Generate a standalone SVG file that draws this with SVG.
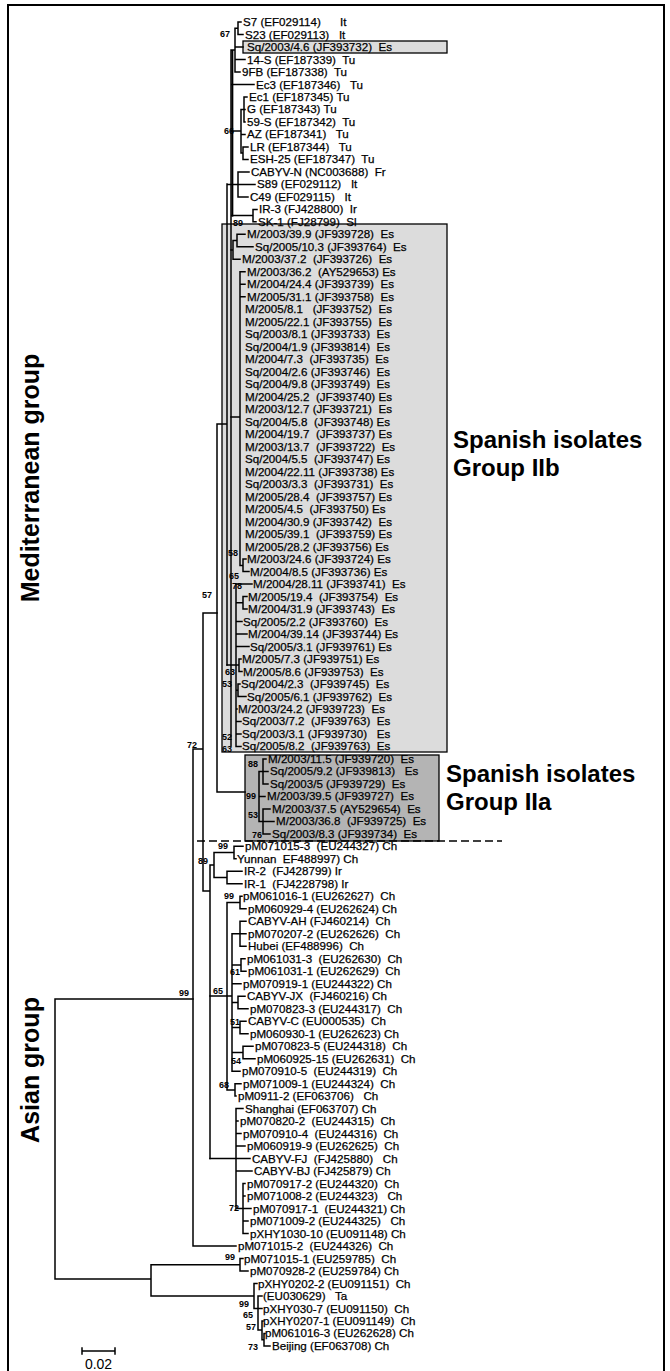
<svg xmlns="http://www.w3.org/2000/svg" width="670" height="1371" viewBox="0 0 670 1371">
<style>
.lf{font-family:"Liberation Sans",Arial,sans-serif;font-size:11.6px;fill:#000;stroke:#000;stroke-width:0.25;white-space:pre}
.bs{font-family:"Liberation Sans",Arial,sans-serif;font-size:9px;font-weight:bold;fill:#000}
.big{font-family:"Liberation Sans",Arial,sans-serif;font-size:24px;font-weight:bold;fill:#000}
.tr{fill:none;stroke:#000;stroke-width:1.5;stroke-linecap:square}
.bx{stroke:#000;stroke-width:1.3}
</style>
<rect x="8" y="5" width="656" height="1375" fill="#fff" stroke="#000" stroke-width="2"/>
<g id="boxes">
<rect class="bx" x="222" y="224" width="225" height="528" fill="#dcdcdc"/>
<rect class="bx" x="243" y="41" width="204" height="12" fill="#dcdcdc"/>
<rect class="bx" x="245" y="755" width="194" height="86" fill="#b4b4b4"/>
</g>
<g id="connectors">
<path class="tr" d="M55 999V1279M55 999H193M55 1279H151M151 1264.8V1296M151 1264.8H240M240 1258.5V1271M240 1258.5H243M240 1271H248M151 1296H254M254 1283.5V1308.5M254 1283.5H257M254 1308.5H258M258 1296V1330M258 1296H262M258 1308.5H262M258 1330H262M262 1321V1339.7M262 1321H263M262 1339.7H264M264 1333.4V1345.9M264 1333.4H265M264 1345.9H270"/>
<path class="tr" d="M193 749V1246M193 1246H236M193 749H203M203 613V891M203 613H217M203 891H210M210 865V1158.6M214 852.5V877.5M210 865H214M214 852.5H234M214 877.5H227M234 846.3V858.8M234 846.3H243M234 858.8H236M227 871.3V883.8M227 871.3H242M227 883.8H242"/>
<path class="tr" d="M227 902.5V1089.9M210 996H232M227 902.5H240M240 896.3V908.8M240 896.3H242M240 908.8H246M232 933.8V1071.2M232 933.8H240M240 921.3V946.3M240 921.3H246M240 933.8H246M240 946.3H246M232 965H241M241 958.8V971.2M241 958.8H245M241 971.2H246M232 983.7H241M232 1002.5H238M238 996.2V1008.7M238 996.2H245M238 1008.7H248M232 1027.5H240M240 1021.2V1033.7M240 1021.2H246M240 1033.7H248M232 1052.5H243M243 1046.2V1058.7M243 1046.2H253M243 1058.7H255M232 1071.2H240M227 1089.9H235M235 1083.7V1096.1M235 1083.7H241M235 1096.1H236"/>
<path class="tr" d="M210 1158.6H236M236 1108.6V1208.5M236 1108.6H243M236 1121.1H238M236 1133.6H241M236 1146.1H245M236 1158.6H250M236 1171.1H252M236 1208.5H243M243 1183.6V1233.5M243 1183.6H245M243 1196.1H245M243 1208.5H251M243 1221H248M243 1233.5H248"/>
<path class="tr" d="M217 424V792M217 424H227M217 792H245M227 184V665M231 50V746M232.6 50V216M231 50H235M235 28.2V72M235 28.2H238M238 22V34.5M238 22H241M238 34.5H243M235 47H243M235 59.5H245M235 72H240M231 84.5H254M231 131H241M241 109.4V153.1M241 109.4H244M244 96.9V121.9M244 96.9H247M244 109.4H245M244 121.9H245M241 134.4H245M241 153.1H243M243 146.9V159.4M243 146.9H248M243 159.4H248M227 184.4H238M238 171.9V196.9M238 171.9H249M238 184.4H255M238 196.9H248M231 215.6H253M253 209.4V221.8M253 209.4H257M253 221.8H256"/>
<path class="tr" d="M231 250H233M233 240.6V259.3M233 240.6H237M233 259.3H240M237 234.3V246.8M237 234.3H245M237 246.8H253M231 417H240M240 271.8V565.4M240 271.8H245M240 284.3H245M240 296.8H245M240 565.4H243M243 559.1V571.6M243 559.1H246M243 571.6H249M227 665H236M236 584.1V746.4M236 584.1H252M236 602.8H243M243 596.5V609M243 596.5H247M243 609H247M236 621.5H242M236 634H247M236 646.5H249M236 665H239M239 659V671.5M239 659H241M239 671.5H242M236 690.2H238M238 684V696.5M238 684H240M238 696.5H246M236 709H237M236 721.4H241M236 733.9H241M236 746.4H241"/>
<path class="tr" d="M259 771.4V821.4M259 796.4H265M259 771.4H263M259 821.4H263M263 758.9V783.9M263 758.9H266M263 771.4H268M263 783.9H268M263 808.9V833.9M263 808.9H270M263 821.4H274M263 833.9H270"/>
<path fill="none" stroke="#000" stroke-width="1.5" stroke-dasharray="8 4" d="M197 841H502"/>
<path class="tr" d="M82 1351H115M82 1348V1354M115 1348V1354"/>
</g>
<g id="bootstraps">
<text class="bs" x="220" y="37">67</text>
<text class="bs" x="224" y="134">66</text>
<text class="bs" x="233" y="226">89</text>
<text class="bs" x="228" y="556">58</text>
<text class="bs" x="229" y="579">65</text>
<text class="bs" x="232" y="589">78</text>
<text class="bs" x="202" y="598">57</text>
<text class="bs" x="225" y="675">63</text>
<text class="bs" x="222" y="687">53</text>
<text class="bs" x="222" y="740">52</text>
<text class="bs" x="222" y="752">63</text>
<text class="bs" x="187" y="748">72</text>
<text class="bs" x="248" y="767">88</text>
<text class="bs" x="246" y="799">99</text>
<text class="bs" x="248" y="818">53</text>
<text class="bs" x="252" y="838">76</text>
<text class="bs" x="218" y="849">99</text>
<text class="bs" x="198" y="864">89</text>
<text class="bs" x="224" y="899">99</text>
<text class="bs" x="230" y="975">61</text>
<text class="bs" x="213" y="994">65</text>
<text class="bs" x="179" y="996">99</text>
<text class="bs" x="230" y="1025">51</text>
<text class="bs" x="231" y="1064">54</text>
<text class="bs" x="219" y="1088">68</text>
<text class="bs" x="229" y="1211">72</text>
<text class="bs" x="225" y="1260">99</text>
<text class="bs" x="239" y="1307">99</text>
<text class="bs" x="243" y="1318">65</text>
<text class="bs" x="246" y="1330">57</text>
<text class="bs" x="248" y="1350">73</text>
</g>
<g id="n1"><text class="lf" x="243" y="26">S7 (EF029114)      It</text></g>
<g id="n2"><text class="lf" x="245" y="38.5">S23 (EF029113)   It</text></g>
<g id="n3"><text class="lf" x="247" y="51">Sq/2003/4.6 (JF393732)  Es</text></g>
<g id="n4"><text class="lf" x="247" y="63.5">14-S (EF187339)  Tu</text></g>
<g id="n5"><text class="lf" x="242" y="76">9FB (EF187338)  Tu</text></g>
<g id="n6"><text class="lf" x="256" y="88.5">Ec3 (EF187346)   Tu</text></g>
<g id="n7"><text class="lf" x="249" y="100.9">Ec1 (EF187345) Tu</text></g>
<g id="n8"><text class="lf" x="247" y="113.4">G (EF187343) Tu</text></g>
<g id="n9"><text class="lf" x="247" y="125.9">59-S (EF187342)  Tu</text></g>
<g id="n10"><text class="lf" x="247" y="138.4">AZ (EF187341)   Tu</text></g>
<g id="n11"><text class="lf" x="250" y="150.9">LR (EF187344)   Tu</text></g>
<g id="n12"><text class="lf" x="250" y="163.4">ESH-25 (EF187347)  Tu</text></g>
<g id="n13"><text class="lf" x="251" y="175.9">CABYV-N (NC003688)  Fr</text></g>
<g id="n14"><text class="lf" x="257" y="188.4">S89 (EF029112)   It</text></g>
<g id="n15"><text class="lf" x="250" y="200.9">C49 (EF029115)   It</text></g>
<g id="n16"><text class="lf" x="259" y="213.4">IR-3 (FJ428800)  Ir</text></g>
<g id="n17"><text class="lf" x="258" y="225.8">SK-1 (FJ28799)  Sl</text></g>
<g id="n18"><text class="lf" x="247" y="238.3">M/2003/39.9 (JF939728)  Es</text></g>
<g id="n19"><text class="lf" x="255" y="250.8">Sq/2005/10.3 (JF393764)  Es</text></g>
<g id="n20"><text class="lf" x="242" y="263.3">M/2003/37.2  (JF393726)  Es</text></g>
<g id="n21"><text class="lf" x="247" y="275.8">M/2003/36.2  (AY529653) Es</text></g>
<g id="n22"><text class="lf" x="247" y="288.3">M/2004/24.4 (JF393739)  Es</text></g>
<g id="n23"><text class="lf" x="247" y="300.8">M/2005/31.1 (JF393758)  Es</text></g>
<g id="n24"><text class="lf" x="245" y="313.3">M/2005/8.1   (JF393752)  Es</text></g>
<g id="n25"><text class="lf" x="245" y="325.8">M/2005/22.1 (JF393755)  Es</text></g>
<g id="n26"><text class="lf" x="245" y="338.3">Sq/2003/8.1 (JF393733)  Es</text></g>
<g id="n27"><text class="lf" x="245" y="350.7">Sq/2004/1.9 (JF393814)  Es</text></g>
<g id="n28"><text class="lf" x="245" y="363.2">M/2004/7.3  (JF393735)  Es</text></g>
<g id="n29"><text class="lf" x="245" y="375.7">Sq/2004/2.6 (JF393746)  Es</text></g>
<g id="n30"><text class="lf" x="245" y="388.2">Sq/2004/9.8 (JF393749)  Es</text></g>
<g id="n31"><text class="lf" x="245" y="400.7">M/2004/25.2  (JF393740) Es</text></g>
<g id="n32"><text class="lf" x="245" y="413.2">M/2003/12.7 (JF393721)  Es</text></g>
<g id="n33"><text class="lf" x="245" y="425.7">Sq/2004/5.8  (JF393748) Es</text></g>
<g id="n34"><text class="lf" x="245" y="438.2">M/2004/19.7  (JF393737) Es</text></g>
<g id="n35"><text class="lf" x="245" y="450.7">M/2003/13.7  (JF393722)  Es</text></g>
<g id="n36"><text class="lf" x="245" y="463.2">Sq/2004/5.5  (JF393747) Es</text></g>
<g id="n37"><text class="lf" x="245" y="475.6">M/2004/22.11 (JF393738) Es</text></g>
<g id="n38"><text class="lf" x="245" y="488.1">Sq/2003/3.3  (JF393731)  Es</text></g>
<g id="n39"><text class="lf" x="245" y="500.6">M/2005/28.4  (JF393757) Es</text></g>
<g id="n40"><text class="lf" x="245" y="513.1">M/2005/4.5  (JF393750) Es</text></g>
<g id="n41"><text class="lf" x="245" y="525.6">M/2004/30.9 (JF393742)  Es</text></g>
<g id="n42"><text class="lf" x="245" y="538.1">M/2005/39.1  (JF393759) Es</text></g>
<g id="n43"><text class="lf" x="245" y="550.6">M/2005/28.2 (JF393756) Es</text></g>
<g id="n44"><text class="lf" x="247" y="563.1">M/2003/24.6 (JF393724) Es</text></g>
<g id="n45"><text class="lf" x="250" y="575.6">M/2004/8.5 (JF393736) Es</text></g>
<g id="n46"><text class="lf" x="253" y="588.1">M/2004/28.11 (JF393741)  Es</text></g>
<g id="n47"><text class="lf" x="248" y="600.5">M/2005/19.4  (JF393754)  Es</text></g>
<g id="n48"><text class="lf" x="248" y="613">M/2004/31.9 (JF393743)  Es</text></g>
<g id="n49"><text class="lf" x="243" y="625.5">Sq/2005/2.2 (JF393760)  Es</text></g>
<g id="n50"><text class="lf" x="248" y="638">M/2004/39.14 (JF393744) Es</text></g>
<g id="n51"><text class="lf" x="250" y="650.5">Sq/2005/3.1 (JF939761) Es</text></g>
<g id="n52"><text class="lf" x="242" y="663">M/2005/7.3 (JF939751) Es</text></g>
<g id="n53"><text class="lf" x="243" y="675.5">M/2005/8.6 (JF939753)  Es</text></g>
<g id="n54"><text class="lf" x="241" y="688">Sq/2004/2.3  (JF939745)  Es</text></g>
<g id="n55"><text class="lf" x="247" y="700.5">Sq/2005/6.1 (JF939762)  Es</text></g>
<g id="n56"><text class="lf" x="238" y="713">M/2003/24.2 (JF939723)  Es</text></g>
<g id="n57"><text class="lf" x="242" y="725.4">Sq/2003/7.2  (JF939763)  Es</text></g>
<g id="n58"><text class="lf" x="242" y="737.9">Sq/2003/3.1 (JF939730)   Es</text></g>
<g id="n59"><text class="lf" x="242" y="750.4">Sq/2005/8.2  (JF939763)  Es</text></g>
<g id="n60"><text class="lf" x="268" y="762.9">M/2003/11.5 (JF939720)  Es</text></g>
<g id="n61"><text class="lf" x="270" y="775.4">Sq/2005/9.2 (JF939813)   Es</text></g>
<g id="n62"><text class="lf" x="270" y="787.9">Sq/2003/5 (JF939729)  Es</text></g>
<g id="n63"><text class="lf" x="267" y="800.4">M/2003/39.5 (JF939727)  Es</text></g>
<g id="n64"><text class="lf" x="272" y="812.9">M/2003/37.5 (AY529654)  Es</text></g>
<g id="n65"><text class="lf" x="276" y="825.4">M/2003/36.8  (JF939725)  Es</text></g>
<g id="n66"><text class="lf" x="272" y="837.9">Sq/2003/8.3 (JF939734)  Es</text></g>
<g id="n67"><text class="lf" x="245" y="850.3">pM071015-3  (EU244327) Ch</text></g>
<g id="n68"><text class="lf" x="237" y="862.8">Yunnan  EF488997) Ch</text></g>
<g id="n69"><text class="lf" x="244" y="875.3">IR-2  (FJ428799) Ir</text></g>
<g id="n70"><text class="lf" x="244" y="887.8">IR-1  (FJ4228798) Ir</text></g>
<g id="n71"><text class="lf" x="243" y="900.3">pM061016-1 (EU262627)  Ch</text></g>
<g id="n72"><text class="lf" x="248" y="912.8">pM060929-4 (EU262624) Ch</text></g>
<g id="n73"><text class="lf" x="248" y="925.3">CABYV-AH (FJ460214)  Ch</text></g>
<g id="n74"><text class="lf" x="248" y="937.8">pM070207-2 (EU262626)  Ch</text></g>
<g id="n75"><text class="lf" x="248" y="950.3">Hubei (EF488996)  Ch</text></g>
<g id="n76"><text class="lf" x="247" y="962.8">pM061031-3  (EU262630)  Ch</text></g>
<g id="n77"><text class="lf" x="248" y="975.2">pM061031-1 (EU262629)  Ch</text></g>
<g id="n78"><text class="lf" x="243" y="987.7">pM070919-1 (EU244322) Ch</text></g>
<g id="n79"><text class="lf" x="247" y="1000.2">CABYV-JX  (FJ460216) Ch</text></g>
<g id="n80"><text class="lf" x="250" y="1012.7">pM070823-3 (EU244317)  Ch</text></g>
<g id="n81"><text class="lf" x="248" y="1025.2">CABYV-C (EU000535)  Ch</text></g>
<g id="n82"><text class="lf" x="250" y="1037.7">pM060930-1 (EU262623) Ch</text></g>
<g id="n83"><text class="lf" x="255" y="1050.2">pM070823-5 (EU244318)  Ch</text></g>
<g id="n84"><text class="lf" x="257" y="1062.7">pM060925-15 (EU262631)  Ch</text></g>
<g id="n85"><text class="lf" x="242" y="1075.2">pM070910-5  (EU244319)  Ch</text></g>
<g id="n86"><text class="lf" x="243" y="1087.7">pM071009-1 (EU244324)  Ch</text></g>
<g id="n87"><text class="lf" x="238" y="1100.1">pM0911-2 (EF063706)   Ch</text></g>
<g id="n88"><text class="lf" x="245" y="1112.6">Shanghai (EF063707) Ch</text></g>
<g id="n89"><text class="lf" x="240" y="1125.1">pM070820-2  (EU244315)  Ch</text></g>
<g id="n90"><text class="lf" x="243" y="1137.6">pM070910-4  (EU244316)  Ch</text></g>
<g id="n91"><text class="lf" x="247" y="1150.1">pM060919-9 (EU262625)  Ch</text></g>
<g id="n92"><text class="lf" x="252" y="1162.6">CABYV-FJ  (FJ425880)   Ch</text></g>
<g id="n93"><text class="lf" x="254" y="1175.1">CABYV-BJ (FJ425879) Ch</text></g>
<g id="n94"><text class="lf" x="247" y="1187.6">pM070917-2 (EU244320)  Ch</text></g>
<g id="n95"><text class="lf" x="247" y="1200.1">pM071008-2 (EU244323)   Ch</text></g>
<g id="n96"><text class="lf" x="253" y="1212.5">pM070917-1  (EU244321) Ch</text></g>
<g id="n97"><text class="lf" x="250" y="1225">pM071009-2 (EU244325)   Ch</text></g>
<g id="n98"><text class="lf" x="250" y="1237.5">pXHY1030-10 (EU091148) Ch</text></g>
<g id="n99"><text class="lf" x="238" y="1250">pM071015-2  (EU244326)  Ch</text></g>
<g id="n100"><text class="lf" x="244" y="1262.5">pM071015-1 (EU259785)  Ch</text></g>
<g id="n101"><text class="lf" x="250" y="1275">pM070928-2 (EU259784) Ch</text></g>
<g id="n102"><text class="lf" x="258" y="1287.5">pXHY0202-2 (EU091151)  Ch</text></g>
<g id="n103"><text class="lf" x="263" y="1300">(EU030629)   Ta</text></g>
<g id="n104"><text class="lf" x="263" y="1312.5">pXHY030-7 (EU091150)  Ch</text></g>
<g id="n105"><text class="lf" x="263" y="1325">pXHY0207-1 (EU091149)  Ch</text></g>
<g id="n106"><text class="lf" x="265" y="1337.4">pM061016-3 (EU262628) Ch</text></g>
<g id="n107"><text class="lf" x="272" y="1349.9">Beijing (EF063708) Ch</text></g>
<g id="groups">
<text class="big" x="453" y="448">Spanish isolates</text>
<text class="big" x="453" y="476">Group IIb</text>
<text class="big" x="446" y="782">Spanish isolates</text>
<text class="big" x="446" y="810">Group IIa</text>
<text class="big" transform="translate(39 478) rotate(-90)" text-anchor="middle" style="font-size:25px">Mediterranean group</text>
<text class="big" transform="translate(39 1070) rotate(-90)" text-anchor="middle" style="font-size:25px">Asian group</text>
</g>
<text x="98.5" y="1369" text-anchor="middle" style="font-family:'Liberation Sans',Arial,sans-serif;font-size:14px">0.02</text>
</svg>
